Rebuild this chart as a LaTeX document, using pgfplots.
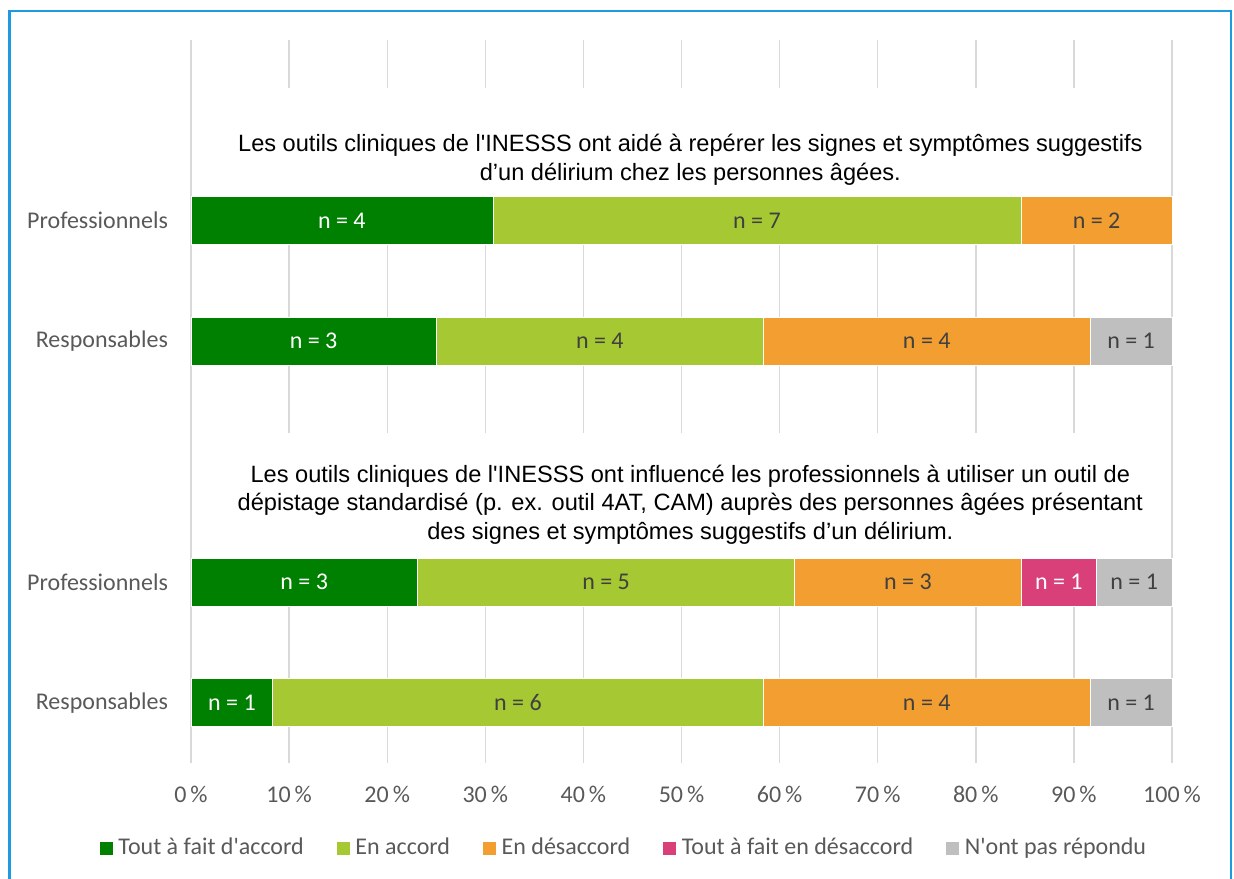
\documentclass[border=0pt]{standalone}
\usepackage{fontspec}
\setmainfont{Carlito}[Ligatures=TeXOff]
\newfontfamily\arialf{Liberation Sans}[Ligatures=TeXOff]
\usepackage{pgfplots}
\usepackage{pgfplotstable}
\pgfplotsset{compat=1.18}
\definecolor{frameblue}{HTML}{1E9BE0}
\definecolor{dkgreen}{HTML}{008000}
\definecolor{ltgreen}{HTML}{A6C833}
\definecolor{orng}{HTML}{F39E31}
\definecolor{pinkc}{HTML}{D9407A}
\definecolor{grayc}{HTML}{BFBFBF}
\definecolor{gridc}{HTML}{D9D9D9}
\definecolor{lbl}{HTML}{595959}
\definecolor{inlbl}{HTML}{404040}

% percentages per row (n / total * 100)
\pgfplotstableread{
y  tfa    acc    des    tfd   npr
1  8.33   50.00  33.33  0     8.33
2  23.08  38.46  23.08  7.69  7.69
4  25.00  33.33  33.33  0     8.33
5  30.77  53.85  15.38  0     0
}\pcttab

\newcommand{\labfont}{\fontsize{12}{14}\selectfont}
\tikzset{
  nlab/.style={font=\labfont, text=inlbl},
  nlabw/.style={font=\labfont, text=white},
  ttl/.style={align=center, text=black,
    font=\arialf\fontsize{11.8}{14.25}\selectfont},
}
\pgfplotsset{
  sqlegend/.style={legend image code/.code={\fill[##1] (0pt,-3.5pt) rectangle (7pt,3.5pt);}},
}

\begin{document}
\begin{tikzpicture}
\useasboundingbox (0,0) rectangle (617pt,-439pt);
\draw[frameblue,line width=1.2pt] (4.75pt,-440pt) -- (4.75pt,-5.5pt) -- (615.5pt,-5.5pt) -- (615.5pt,-440pt);
\begin{axis}[
  at={(95.5pt,-20pt)}, anchor=north west,
  scale only axis, width=490.5pt, height=361.5pt,
  xbar stacked, bar width=24pt,
  xmin=0, xmax=100, ymin=0.5, ymax=6.5,
  xtick={0,10,...,100},
  xticklabels={0\,\%,10\,\%,20\,\%,30\,\%,40\,\%,50\,\%,60\,\%,70\,\%,80\,\%,90\,\%,100\,\%},
  ytick={1,2,4,5},
  yticklabels={Responsables,Professionnels,Responsables,Professionnels},
  xmajorgrids, grid style={gridc,line width=0.7pt},
  axis line style={draw=none},
  major tick length=0pt,
  tick label style={font=\labfont, text=lbl},
  xticklabel style={yshift=-8pt},
  yticklabel style={xshift=-8pt},
  clip=false,
  legend columns=5,
  legend style={at={(0.4424,-0.1176)}, anchor=center, draw=none, fill=none,
    font=\labfont, text=lbl, nodes={inner xsep=2.5pt},
    /tikz/every even column/.append style={column sep=13.5pt}},
  sqlegend,
]
\addplot[fill=dkgreen, draw=white, line width=0.3pt] table[x=tfa,y=y] {\pcttab};
\addlegendentry{Tout à fait d'accord}
\addplot[fill=ltgreen, draw=white, line width=0.3pt] table[x=acc,y=y] {\pcttab};
\addlegendentry{En accord}
\addplot[fill=orng, draw=white, line width=0.3pt] table[x=des,y=y] {\pcttab};
\addlegendentry{En désaccord}
\addplot[fill=pinkc, draw=white, line width=0.3pt] table[x=tfd,y=y] {\pcttab};
\addlegendentry{Tout à fait en désaccord}
\addplot[fill=grayc, draw=white, line width=0.3pt] table[x=npr,y=y] {\pcttab};
\addlegendentry{N'ont pas répondu}

% white boxes behind the question titles (hide inner grid lines)
\fill[white] (axis cs:0.4,5.2) rectangle (axis cs:99.6,6.1);
\fill[white] (axis cs:0.4,2.2) rectangle (axis cs:99.6,3.24);

% anchor points for titles and segment labels (drawn after the axis, on top)
\coordinate (t1) at (axis cs:50.9,5.508);
\coordinate (t2) at (axis cs:50.9,2.645);
\coordinate (a1) at (axis cs:15.38,5);
\coordinate (a2) at (axis cs:57.69,5);
\coordinate (a3) at (axis cs:92.31,5);
\coordinate (b1) at (axis cs:12.5,4);
\coordinate (b2) at (axis cs:41.67,4);
\coordinate (b3) at (axis cs:75.0,4);
\coordinate (b4) at (axis cs:95.83,4);
\coordinate (c1) at (axis cs:11.54,2);
\coordinate (c2) at (axis cs:42.31,2);
\coordinate (c3) at (axis cs:73.08,2);
\coordinate (c4) at (axis cs:88.46,2);
\coordinate (c5) at (axis cs:96.15,2);
\coordinate (d1) at (axis cs:4.17,1);
\coordinate (d2) at (axis cs:33.33,1);
\coordinate (d3) at (axis cs:75.0,1);
\coordinate (d4) at (axis cs:95.83,1);
\end{axis}
\node[ttl] at (t1) {Les outils cliniques de l'INESSS ont aidé à repérer les signes et symptômes suggestifs\\d’un délirium chez les personnes âgées.};
\node[ttl] at (t2) {Les outils cliniques de l'INESSS ont influencé les professionnels à utiliser un outil de\\dépistage standardisé (p. ex. outil 4AT, CAM) auprès des personnes âgées présentant\\des signes et symptômes suggestifs d’un délirium.};
\node[nlabw] at (a1) {n = 4};
\node[nlab] at (a2) {n = 7};
\node[nlab] at (a3) {n = 2};
\node[nlabw] at (b1) {n = 3};
\node[nlab] at (b2) {n = 4};
\node[nlab] at (b3) {n = 4};
\node[nlab] at (b4) {n = 1};
\node[nlabw] at (c1) {n = 3};
\node[nlab] at (c2) {n = 5};
\node[nlab] at (c3) {n = 3};
\node[nlabw] at (c4) {n = 1};
\node[nlab] at (c5) {n = 1};
\node[nlabw] at (d1) {n = 1};
\node[nlab] at (d2) {n = 6};
\node[nlab] at (d3) {n = 4};
\node[nlab] at (d4) {n = 1};
\end{tikzpicture}
\end{document}
